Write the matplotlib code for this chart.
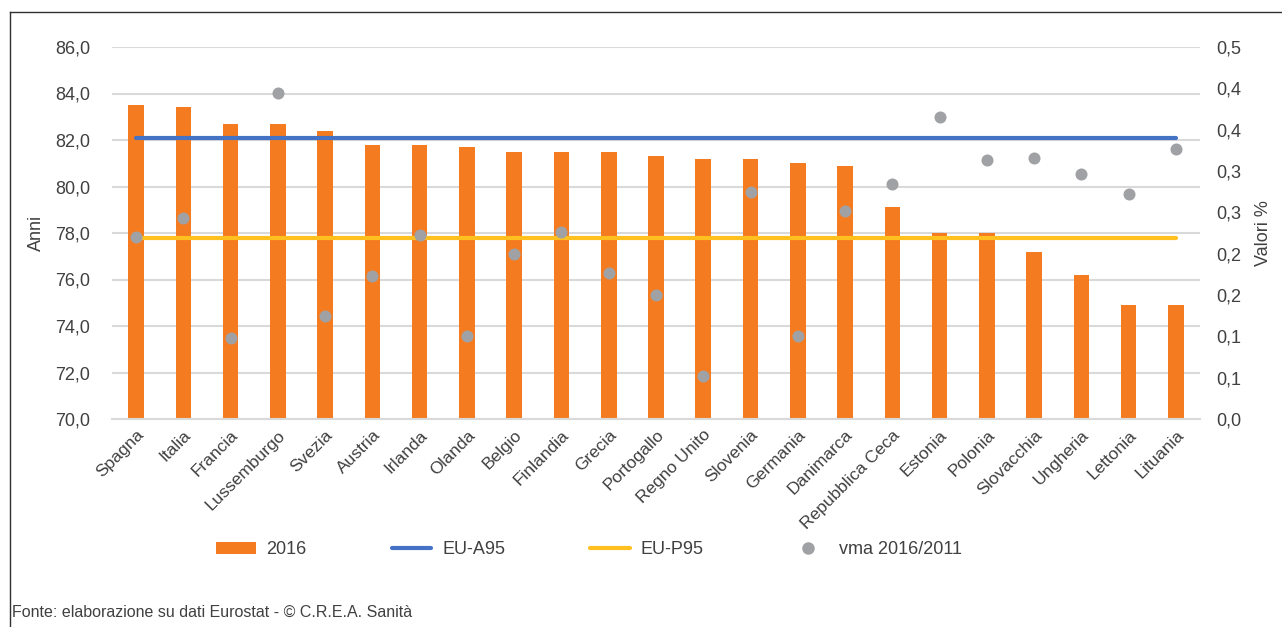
import matplotlib
matplotlib.use("Agg")
import matplotlib.pyplot as plt
from matplotlib.lines import Line2D
from matplotlib.patches import Patch
from matplotlib.ticker import FuncFormatter
import numpy as np

plt.rcParams['font.family'] = ['Liberation Sans', 'DejaVu Sans']

# Data
paesi = ["Spagna", "Italia", "Francia", "Lussemburgo", "Svezia", "Austria",
         "Irlanda", "Olanda", "Belgio", "Finlandia", "Grecia", "Portogallo",
         "Regno Unito", "Slovenia", "Germania", "Danimarca", "Repubblica Ceca",
         "Estonia", "Polonia", "Slovacchia", "Ungheria", "Lettonia", "Lituania"]
anni_2016 = [83.5, 83.4, 82.7, 82.7, 82.4, 81.8, 81.8, 81.7, 81.5, 81.5, 81.5,
             81.3, 81.2, 81.2, 81.0, 80.9, 79.1, 78.0, 78.0, 77.2, 76.2, 74.9, 74.9]
eu_a95 = [82.1] * len(paesi)
eu_p95 = [77.8] * len(paesi)
vma = [0.220, 0.243, 0.098, 0.394, 0.124, 0.173, 0.223, 0.101, 0.200, 0.226,
       0.177, 0.150, 0.052, 0.275, 0.101, 0.252, 0.284, 0.365, 0.313, 0.316,
       0.296, 0.272, 0.327]
left_ticks = [70, 72, 74, 76, 78, 80, 82, 84, 86]
right_ticks = [0.00, 0.05, 0.10, 0.15, 0.20, 0.25, 0.30, 0.35, 0.40, 0.45]
right_tick_labels = ["0,0", "0,1", "0,1", "0,2", "0,2", "0,3", "0,3", "0,4", "0,4", "0,5"]

ORANGE = "#F47B20"
BLUE = "#4472C4"
YELLOW = "#FFC020"
GREY = "#A0A1A4"
TEXT = "#404040"
GRID = "#D9D9D9"

fig = plt.figure(figsize=(12.82, 6.27), dpi=100)
ax = fig.add_axes([112.4 / 1282, 1 - 419 / 627, 1087.2 / 1282, 372 / 627])
ax2 = ax.twinx()

x = np.arange(len(paesi))
ax.bar(x, anni_2016, width=0.33, color=ORANGE, zorder=2)
ax.plot(x, eu_a95, color=BLUE, lw=3.0, solid_capstyle='round', zorder=3)
ax.plot(x, eu_p95, color=YELLOW, lw=3.0, solid_capstyle='round', zorder=3)
ax2.scatter(x, vma, s=75, color=GREY, zorder=4, linewidths=0)

ax.set_xlim(-0.5, len(paesi) - 0.5)
ax.set_ylim(70, 86)
ax.set_yticks(left_ticks)
ax.yaxis.set_major_formatter(FuncFormatter(lambda v, p: f"{v:.1f}".replace(".", ",")))
ax.grid(axis='y', color=GRID, lw=1.5, zorder=0)
ax.set_axisbelow(True)

ax2.set_ylim(0, 0.45)
ax2.set_yticks(right_ticks)
ax2.set_yticklabels(right_tick_labels)

ax.set_xticks(x)
ax.set_xticklabels(paesi, rotation=45, ha='right', rotation_mode='anchor',
                   fontsize=12.5, color=TEXT)
ax.tick_params(axis='x', length=0, pad=6)
ax.tick_params(axis='y', length=0, pad=16, labelsize=13, labelcolor=TEXT)
ax2.tick_params(axis='y', length=0, pad=12, labelsize=13, labelcolor=TEXT)

for a in (ax, ax2):
    for s in a.spines.values():
        s.set_visible(False)
ax.spines['bottom'].set_visible(True)
ax.spines['bottom'].set_color(GRID)
ax.spines['bottom'].set_linewidth(1.5)

ax.set_ylabel("Anni", fontsize=13, color=TEXT, labelpad=7)
ax2.set_ylabel("Valori %", fontsize=13, color=TEXT, rotation=90, labelpad=10)

# Legend
handles = [
    Patch(facecolor=ORANGE, edgecolor='none'),
    Line2D([0], [0], color=BLUE, lw=3.0, solid_capstyle='round'),
    Line2D([0], [0], color=YELLOW, lw=3.0, solid_capstyle='round'),
    Line2D([0], [0], ls='none', marker='o', markersize=9, color=GREY, markeredgewidth=0),
]
labels = ["2016", "EU-A95", "EU-P95", "vma 2016/2011"]
leg = fig.legend(handles, labels, loc='center', bbox_to_anchor=(589 / 1282, 1 - 550 / 627),
                 ncol=4, frameon=False, fontsize=13, handlelength=2.2, handleheight=0.6,
                 handletextpad=0.6, columnspacing=4.7)
for t in leg.get_texts():
    t.set_color(TEXT)

fig.text(12 / 1282, 1 - 612 / 627, "Fonte: elaborazione su dati Eurostat - © C.R.E.A. Sanità",
         fontsize=11.5, color=TEXT, va='center', ha='left')

# Outer frame (left and top edges)
fig.add_artist(Line2D([10 / 1282, 10 / 1282], [0, 1 - 12 / 627], transform=fig.transFigure,
                      color="#303030", lw=1.0))
fig.add_artist(Line2D([10 / 1282, 1], [1 - 12 / 627, 1 - 12 / 627], transform=fig.transFigure,
                      color="#303030", lw=1.0))

fig.savefig("out.png", dpi=100, facecolor="white")
